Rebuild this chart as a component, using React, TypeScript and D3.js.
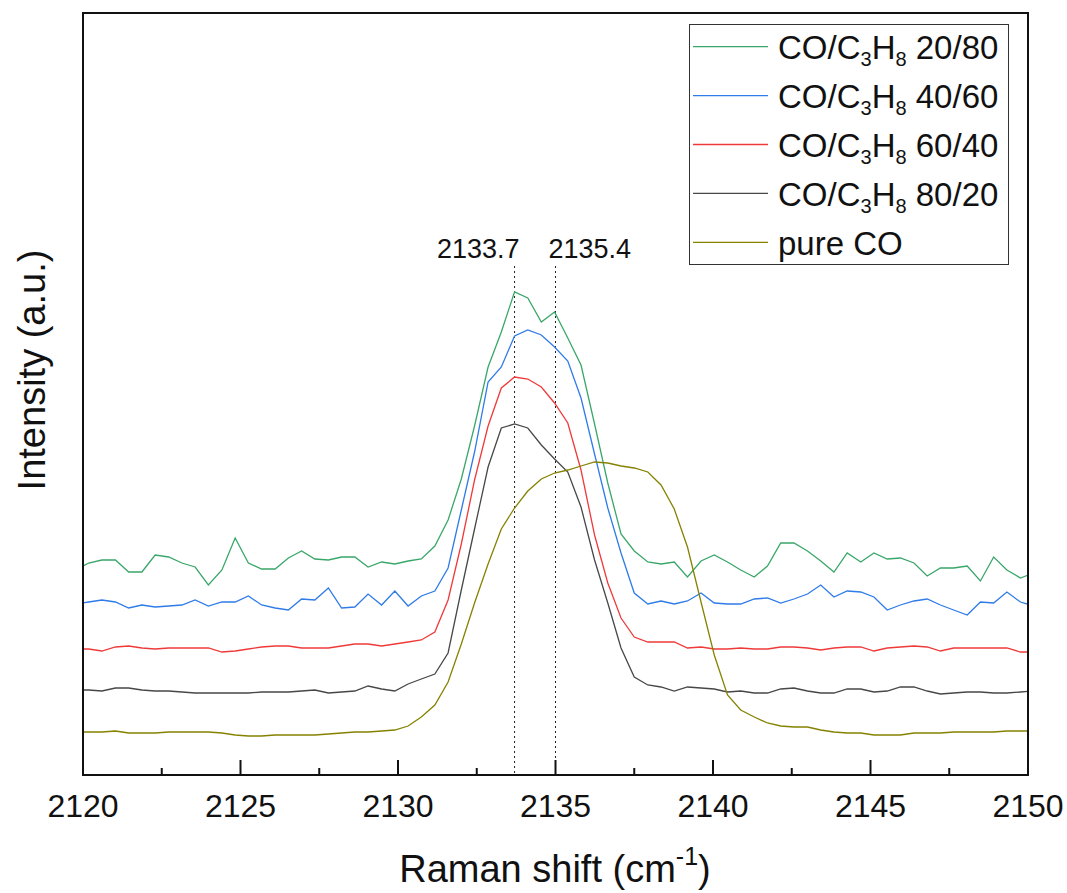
import React from 'react';
import * as d3 from 'd3';

const WIDTH = 1067;
const HEIGHT = 893;
const plot = { left: 83, right: 1028, top: 13, bottom: 775 };
const FONT = 'Liberation Sans, Arial, Helvetica, sans-serif';

// Raman shift axis (cm-1), shared by all spectra
const ramanShift = [
  2119.76, 2120.18, 2120.60, 2121.03, 2121.45, 2121.87, 2122.29, 2122.72, 2123.14, 2123.56,
  2123.98, 2124.41, 2124.83, 2125.25, 2125.67, 2126.10, 2126.52, 2126.94, 2127.36, 2127.79,
  2128.21, 2128.63, 2129.05, 2129.48, 2129.90, 2130.32, 2130.74, 2131.17, 2131.59, 2132.01,
  2132.43, 2132.86, 2133.28, 2133.70, 2134.12, 2134.55, 2134.97, 2135.39, 2135.81, 2136.24,
  2136.66, 2137.08, 2137.50, 2137.93, 2138.35, 2138.77, 2139.19, 2139.62, 2140.04, 2140.46,
  2140.88, 2141.31, 2141.73, 2142.15, 2142.57, 2143.00, 2143.42, 2143.84, 2144.26, 2144.69,
  2145.11, 2145.53, 2145.95, 2146.38, 2146.80, 2147.22, 2147.64, 2148.07, 2148.49, 2148.91,
  2149.33, 2149.76, 2150.18,
];

// intensities (a.u., stacked as plotted)
const co2080 = [
  202, 209, 212, 212, 200, 200, 217, 215, 209, 205,
  187, 202, 234, 209, 203, 203, 214, 221, 213, 212,
  215, 215, 205, 210, 208, 211, 213, 226, 252, 293,
  346, 405, 440, 480, 474, 450, 460, 434, 407, 348,
  289, 238, 221, 210, 208, 210, 195, 211, 217, 210,
  202, 195, 206, 229, 229, 221, 211, 200, 219, 210,
  219, 213, 214, 209, 196, 204, 204, 206, 191, 215,
  202, 194, 199,
];
const co4060 = [
  168, 170, 172, 170, 164, 167, 165, 166, 167, 172,
  166, 170, 170, 176, 167, 164, 162, 173, 172, 184,
  164, 165, 178, 167, 181, 166, 176, 181, 204, 262,
  320, 390, 405, 436, 442, 437, 425, 411, 374, 318,
  264, 219, 179, 168, 171, 168, 171, 179, 169, 168,
  168, 173, 174, 169, 173, 178, 187, 175, 181, 180,
  175, 162, 167, 171, 173, 167, 162, 157, 170, 169,
  180, 170, 166,
];
const co6040 = [
  123, 123, 121, 125, 126, 124, 123, 124, 124, 124,
  124, 120, 121, 123, 125, 126, 126, 124, 124, 124,
  126, 128, 128, 126, 128, 130, 132, 140, 172, 228,
  292, 346, 384, 395, 393, 385, 369, 349, 302, 237,
  189, 154, 135, 130, 130, 130, 124, 125, 123, 123,
  124, 123, 123, 125, 125, 124, 122, 124, 125, 125,
  121, 124, 125, 126, 125, 121, 124, 124, 124, 124,
  124, 120, 120,
];
const co8020 = [
  82, 82, 81, 84, 84, 82, 81, 81, 80, 79,
  79, 79, 79, 79, 80, 80, 80, 81, 82, 79,
  80, 81, 86, 83, 81, 88, 93, 98, 119, 182,
  243, 305, 344, 348, 344, 327, 313, 300, 265, 212,
  169, 124, 95, 87, 85, 81, 85, 84, 83, 80,
  81, 79, 79, 83, 84, 81, 79, 79, 83, 83,
  80, 81, 85, 85, 81, 78, 79, 80, 80, 79,
  79, 80, 81,
];
const pureCO = [
  40, 40, 40, 41, 39, 39, 39, 40, 40, 40,
  40, 39, 37, 36, 36, 37, 37, 37, 37, 38,
  39, 40, 40, 41, 42, 46, 55, 67, 90, 128,
  169, 208, 243, 264, 281, 293, 299, 302, 306, 310,
  309, 306, 304, 300, 287, 263, 225, 170, 117, 77,
  62, 55, 49, 46, 45, 45, 42, 40, 39, 39,
  37, 37, 37, 39, 39, 39, 40, 40, 40, 40,
  41, 41, 41,
];

const seriesRatios = ['20/80', '40/60', '60/40', '80/20', null];
const seriesColors = ['#3aa76a', '#2f7be8', '#ef3a3a', '#474747', '#858200'];
const seriesValues = [co2080, co4060, co6040, co8020, pureCO];

const xTicks = [2120, 2125, 2130, 2135, 2140, 2145, 2150];
const xMinorTicks = [2122.5, 2127.5, 2132.5, 2137.5, 2142.5, 2147.5];

const peakPositions = [2133.7, 2135.0];
const peakLabels = ['2133.7', '2135.4'];

const LegendLabel = ({ ratio }: { ratio: string | null }) => {
  if (!ratio) return <>pure CO</>;
  return (
    <>
      <tspan>CO/C</tspan>
      <tspan fontSize={20} dy={7}>3</tspan>
      <tspan dy={-7}>H</tspan>
      <tspan fontSize={20} dy={7}>8</tspan>
      <tspan dy={-7}>{'\u00a0' + ratio}</tspan>
    </>
  );
};

export default function App() {
  const x = d3.scaleLinear().domain([2120, 2150]).range([plot.left, plot.right]);
  const y = d3.scaleLinear().domain([-3, 759]).range([plot.bottom, plot.top]);

  const line = d3
    .line<number>()
    .x((_, i) => x(ramanShift[i]))
    .y(d => y(d));

  return (
    <svg
      width={WIDTH}
      height={HEIGHT}
      style={{ position: 'absolute', left: 0, top: 0, background: '#fff' }}
      fontFamily={FONT}
    >
      <defs>
        <clipPath id="plot-clip">
          <rect x={plot.left} y={plot.top} width={plot.right - plot.left} height={plot.bottom - plot.top} />
        </clipPath>
      </defs>

      {/* peak guides */}
      {peakPositions.map((p, i) => (
        <g key={'peak' + i}>
          <line
            x1={x(p)}
            x2={x(p)}
            y1={266}
            y2={plot.bottom}
            stroke="#222"
            strokeWidth={1}
            strokeDasharray="2,3"
          />
          <text
            x={i === 0 ? x(p) + 5 : x(p) - 7}
            y={258}
            fontSize={27}
            textAnchor={i === 0 ? 'end' : 'start'}
            fill="#111"
          >
            {peakLabels[i]}
          </text>
        </g>
      ))}

      {/* spectra */}
      <g clipPath="url(#plot-clip)">
        {seriesValues.map((vals, i) => (
          <path key={i} d={line(vals) || ''} fill="none" stroke={seriesColors[i]} strokeWidth={1.3} />
        ))}
      </g>

      {/* frame */}
      <rect
        x={plot.left}
        y={plot.top}
        width={plot.right - plot.left}
        height={plot.bottom - plot.top}
        fill="none"
        stroke="#111"
        strokeWidth={2}
      />

      {/* x ticks */}
      {xTicks.map(t => (
        <g key={t}>
          <line x1={x(t)} x2={x(t)} y1={plot.bottom} y2={plot.bottom - 15} stroke="#111" strokeWidth={2} />
          <text x={x(t)} y={817} fontSize={32} textAnchor="middle" fill="#111">
            {t}
          </text>
        </g>
      ))}
      {xMinorTicks.map(t => (
        <line key={t} x1={x(t)} x2={x(t)} y1={plot.bottom} y2={plot.bottom - 7} stroke="#111" strokeWidth={2} />
      ))}

      {/* axis titles */}
      <text x={555} y={882} fontSize={38} textAnchor="middle" fill="#111">
        Raman shift (cm
        <tspan fontSize={25} dy={-17}>-1</tspan>
        <tspan dy={17}>)</tspan>
      </text>
      <text transform="translate(45,370) rotate(-90)" fontSize={38} textAnchor="middle" fill="#111">
        Intensity (a.u.)
      </text>

      {/* legend */}
      <rect x={689.5} y={24.5} width={319} height={240} fill="#fff" stroke="#333" strokeWidth={1} />
      {seriesRatios.map((r, i) => {
        const ly = 46.7 + i * 48.9;
        return (
          <g key={'leg' + i}>
            <line x1={693} x2={768} y1={ly} y2={ly} stroke={seriesColors[i]} strokeWidth={1.3} />
            <text x={778} y={ly + 12.6} fontSize={33} fill="#111">
              <LegendLabel ratio={r} />
            </text>
          </g>
        );
      })}
    </svg>
  );
}
